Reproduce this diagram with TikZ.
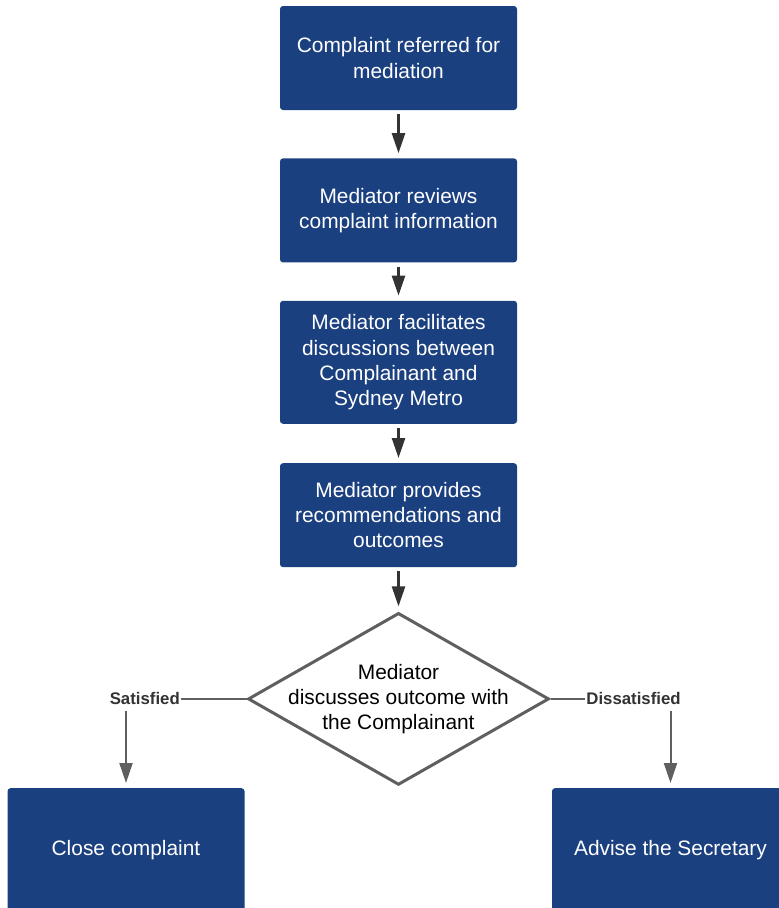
\documentclass[tikz,border=0pt]{standalone}
\usepackage{fontspec}
\setmainfont{Liberation Sans}
\usetikzlibrary{shapes.geometric,arrows.meta,positioning}
\definecolor{boxblue}{RGB}{27,64,128}
\definecolor{linedark}{RGB}{51,51,51}
\definecolor{linegray}{RGB}{95,95,95}

\begin{document}
\begin{tikzpicture}[
  x=1pt, y=1pt,
  font=\fontsize{20.9pt}{25.3pt}\selectfont,
  >={Triangle[length=20pt, width=13pt]},
  stepbox/.style={rectangle, rounded corners=3pt, fill=boxblue, text=white,
                  minimum width=237pt, minimum height=104pt, align=center},
  endbox/.style={stepbox, minimum height=124pt, anchor=north},
  decbox/.style={diamond, draw=linegray, line width=3pt, fill=white, aspect=1.75,
                 minimum width=301pt, minimum height=172pt,
                 inner xsep=-34pt, inner ysep=0pt, align=center},
  link/.style={->, line width=2.5pt, draw=linedark, shorten <=4pt, shorten >=5pt},
  branch/.style={->, line width=2pt, draw=linegray, shorten >=5pt},
  lbl/.style={font=\fontsize{16.8pt}{18pt}\selectfont\bfseries, text=linedark,
              fill=white, inner xsep=1pt, inner ysep=6pt},
]
\clip (0,0) rectangle (779,-908);

\node[stepbox] (refer) at (398.5,-58) {Complaint referred for\\mediation};
\node[stepbox, below=48pt of refer]  (review) {Mediator reviews\\complaint information};
\node[stepbox, minimum height=123pt, below=38pt of review] (facil)
  {Mediator facilitates\\discussions between\\Complainant and\\Sydney Metro};
\node[stepbox, below=39pt of facil]  (recom)  {Mediator provides\\recommendations and\\outcomes};
\node[decbox, below=44pt of recom]   (discuss){Mediator\\discusses outcome with\\the Complainant};

\node[endbox] (close)  at (126,-788)   {Close complaint};
\node[endbox] (advise) at (670.5,-788) {Advise the Secretary};

\draw[link] (refer) -- (review);
\draw[link] (review) -- (facil);
\draw[link] (facil) -- (recom);
\draw[link] (recom) -- (discuss);
\draw[branch] (discuss.west) -| node[lbl, pos=0.422]{Satisfied} (close.north);
\draw[branch] (discuss.east) -| node[lbl, pos=0.346]{Dissatisfied} (advise.north);

\end{tikzpicture}
\end{document}
